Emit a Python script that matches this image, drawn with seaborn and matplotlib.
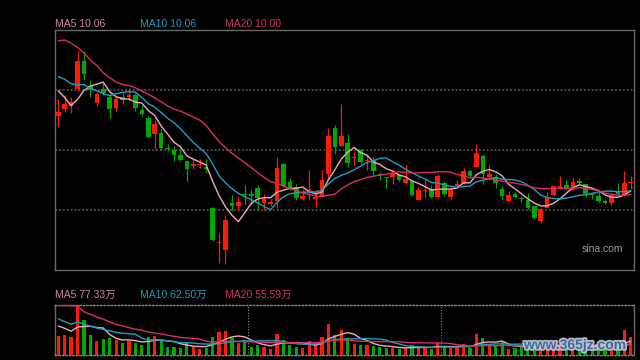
import numpy as np
import pandas as pd
import matplotlib
matplotlib.use('Agg')
import matplotlib.pyplot as plt
import matplotlib.patheffects as pe
import seaborn as sns

# daily candles (90 sessions)
opens = [11.56, 11.69, 11.76, 12.09, 12.65, 12.14, 11.82, 12.08, 11.93, 11.72,
         11.94, 11.93, 11.96, 11.67, 11.51, 11.20, 11.21, 10.92, 10.87, 10.77,
         10.65, 10.56, 10.58, 10.54, 9.72, 9.02, 8.87, 9.82, 9.76, 10.00,
         9.99, 10.12, 9.82, 9.80, 9.86, 10.59, 10.24, 10.14, 9.89, 10.04,
         9.89, 9.94, 10.39, 11.32, 10.96, 11.02, 10.72, 10.87, 10.66, 10.68,
         10.40, 10.34, 10.34, 10.38, 10.22, 10.26, 9.87, 10.06, 10.09, 9.94,
         10.22, 9.94, 10.16, 10.22, 10.45, 10.54, 10.75, 10.34, 10.32, 10.09,
         9.85, 9.99, 9.92, 9.87, 9.75, 9.46, 9.72, 9.97, 10.12, 10.17,
         10.08, 10.26, 10.19, 10.00, 9.96, 9.86, 9.82, 10.04, 9.97, 10.22]
closes = [11.64, 11.79, 11.82, 12.65, 12.40, 12.08, 11.99, 12.02, 11.69, 11.89,
          11.88, 11.96, 11.72, 11.59, 11.14, 11.40, 10.91, 10.90, 10.78, 10.68,
          10.49, 10.59, 10.60, 10.49, 9.07, 9.04, 9.47, 9.76, 9.84, 9.97,
          9.96, 9.92, 9.89, 9.84, 10.52, 10.16, 10.10, 9.91, 9.95, 10.07,
          9.94, 10.27, 11.15, 10.94, 11.15, 10.62, 10.74, 10.64, 10.68, 10.46,
          10.38, 10.32, 10.40, 10.28, 10.29, 9.97, 10.07, 10.08, 9.94, 10.36,
          9.99, 10.07, 10.20, 10.45, 10.35, 10.82, 10.40, 10.38, 10.22, 9.95,
          9.97, 9.94, 9.89, 9.72, 9.52, 9.69, 9.94, 10.16, 10.15, 10.10,
          10.24, 10.22, 9.99, 9.98, 9.85, 9.82, 9.98, 10.00, 10.22, 10.24]
highs = [11.89, 11.97, 11.94, 12.86, 12.86, 12.27, 12.04, 12.21, 11.97, 11.97,
         12.02, 12.12, 12.02, 11.77, 11.55, 11.47, 11.29, 11.00, 10.95, 10.90,
         10.65, 10.70, 10.70, 10.70, 9.74, 9.22, 9.57, 9.97, 9.95, 10.17,
         10.07, 10.17, 10.00, 9.90, 10.74, 10.61, 10.32, 10.20, 10.10, 10.47,
         10.08, 10.48, 11.32, 11.37, 11.80, 11.20, 10.84, 10.90, 10.77, 10.74,
         10.44, 10.34, 10.47, 10.40, 10.57, 10.26, 10.14, 10.27, 10.17, 10.40,
         10.26, 10.14, 10.27, 10.52, 10.48, 11.00, 10.80, 10.57, 10.40, 10.16,
         10.05, 10.04, 9.96, 10.01, 9.76, 9.72, 10.04, 10.16, 10.35, 10.28,
         10.32, 10.32, 10.20, 10.04, 10.04, 9.89, 9.98, 10.22, 10.45, 10.35]
lows = [11.34, 11.64, 11.62, 12.05, 12.27, 11.94, 11.75, 11.97, 11.52, 11.65,
        11.79, 11.85, 11.65, 11.55, 11.13, 10.90, 10.88, 10.86, 10.66, 10.66,
        10.25, 10.50, 10.52, 10.44, 9.06, 8.62, 8.60, 9.66, 9.66, 9.80,
        9.80, 9.68, 9.67, 9.75, 9.72, 10.13, 10.07, 9.87, 9.87, 9.87,
        9.74, 9.93, 10.30, 10.80, 10.95, 10.54, 10.57, 10.60, 10.48, 10.37,
        10.28, 10.12, 10.20, 10.26, 10.20, 9.95, 9.87, 9.94, 9.92, 9.92,
        9.97, 9.90, 10.12, 10.19, 10.34, 10.54, 10.19, 10.30, 10.12, 9.89,
        9.85, 9.92, 9.84, 9.70, 9.50, 9.42, 9.72, 9.95, 10.10, 10.08,
        10.08, 10.19, 9.94, 9.90, 9.84, 9.79, 9.77, 10.00, 9.97, 10.10]
# volume in 万 shares
volumes = [108.3, 112.3, 102.6, 283.3, 197.8, 112.3, 79.8, 89.5, 96.9, 86.6,
           68.4, 80.9, 68.4, 58.1, 100.9, 106.6, 80.9, 45.0, 42.8, 39.3,
           68.4, 46.7, 34.8, 41.0, 100.9, 130.5, 136.2, 98.0, 68.4, 72.4,
           45.0, 54.2, 45.6, 35.3, 118.0, 83.8, 55.3, 45.0, 39.9, 78.1,
           54.2, 102.0, 175.0, 111.2, 140.8, 98.0, 59.3, 55.3, 55.3, 51.3,
           45.6, 39.9, 36.5, 32.5, 39.9, 55.3, 39.9, 39.9, 32.5, 68.4,
           51.3, 39.9, 36.5, 59.3, 39.9, 118.0, 96.3, 51.3, 51.3, 74.1,
           32.5, 36.5, 49.6, 49.6, 66.7, 66.7, 55.3, 61.0, 43.9, 43.9,
           55.3, 43.9, 49.6, 38.2, 43.9, 38.2, 61.0, 43.9, 140.8, 100.9]

# sessions before the window, estimated from where the MA lines start
hist_close = [11.47, 13.02, 14.45, 14.60, 14.88, 14.19, 15.02, 13.49, 13.69, 12.88,
              12.30, 12.70, 12.90, 12.35, 12.85, 12.46, 12.62, 12.05, 11.50]
hist_vol = [130, 120, 300, 858, 412, 380, 343, 397, 387, 238,
            267, 258, 153, 318, 232, 180, 185, 165, 180]

ma_windows = [5, 10, 20]
price_labels = ['MA5 10.06', 'MA10 10.06', 'MA20 10.00']
vol_labels = ['MA5 77.33万', 'MA10 62.50万', 'MA20 55.59万']

RED = '#ff1a00'
GREEN = '#00a800'
MA_COLORS = ['#eeaabb', '#1e9fc2', '#dd2c68']
TEXT_COLORS = ['#d4879c', '#2399ba', '#d0336a']

sns.set_theme(style='dark', rc={'axes.facecolor': 'black', 'figure.facecolor': 'black',
                                'axes.edgecolor': '#6a6a6a'})
plt.rcParams['font.family'] = ['Liberation Sans', 'Noto Sans CJK SC']

df = pd.DataFrame({'open': opens, 'close': closes, 'high': highs, 'low': lows, 'vol': volumes})
df['x'] = np.arange(len(df))
df['color'] = np.where(df['close'] >= df['open'], RED, GREEN)

all_close = pd.Series(hist_close + closes)
all_vol = pd.Series(hist_vol + volumes)
k = len(hist_close)
for w in ma_windows:
    df[f'ma{w}'] = all_close.rolling(w).mean().iloc[k:].values
    df[f'vma{w}'] = all_vol.rolling(w).mean().iloc[k:].values

fig = plt.figure(figsize=(6.4, 3.6), dpi=100)
ax = fig.add_axes([55 / 640, 90 / 360, 579 / 640, 240 / 360])
axv = fig.add_axes([55 / 640, 5.3 / 360, 579 / 640, 50 / 360])

# candles
body_lo = df[['open', 'close']].min(axis=1)
body_h = (df['close'] - df['open']).abs().clip(lower=0.015)
ax.vlines(df['x'], df['low'], df['high'], colors=df['color'], lw=0.9, zorder=2)
ax.bar(df['x'], body_h, bottom=body_lo, width=0.72, color=df['color'], linewidth=0, zorder=3)

for w, c in zip(ma_windows, MA_COLORS):
    sns.lineplot(x=df['x'], y=df[f'ma{w}'], ax=ax, color=c, lw=1.0, zorder=4)

ylo, yhi = 8.47, 13.27
ax.set_xlim(-0.5, len(df) - 0.5)
ax.set_ylim(ylo, yhi)
ax.set_yticks(np.linspace(ylo, yhi, 5)[1:-1])
ax.grid(axis='y', color='#4a4a4a', lw=1.4, ls=(0, (1, 1)))
ax.grid(axis='x', visible=False)

# volume
axv.bar(df['x'], df['vol'], width=0.5, color=df['color'], linewidth=0, zorder=2)
for w, c in zip(ma_windows, MA_COLORS):
    sns.lineplot(x=df['x'], y=df[f'vma{w}'], ax=axv, color=c, lw=1.0, zorder=3)
axv.set_xlim(-0.5, len(df) - 0.5)
axv.set_ylim(0, 285)
axv.set_xticks([29.5, 59.5])
axv.grid(axis='x', color='#8a8a8a', lw=0.8, ls=(0, (1, 1.5)))
axv.grid(axis='y', visible=False)

for a in (ax, axv):
    a.set_xlabel('')
    a.set_ylabel('')
    a.tick_params(left=False, bottom=False, labelleft=False, labelbottom=False)
    for s in a.spines.values():
        s.set_visible(True)
        s.set_color('#6a6a6a')
        s.set_linewidth(1.0)
for s in ('top', 'bottom'):
    axv.spines[s].set_linestyle((0, (1, 1.5)))
    axv.spines[s].set_color('#8a8a8a')

# MA legends
for lbl, vl, c, xp in zip(price_labels, vol_labels, TEXT_COLORS, [55, 140, 225]):
    fig.text(xp / 640, 1 - 24 / 360, lbl, color=c, fontsize=7.5, va='center')
    fig.text(xp / 640, 1 - 295 / 360, vl, color=c, fontsize=7.5, va='center')

fig.text(582 / 640, 1 - 249 / 360, 'sina.com', color='#9a9a9a', fontsize=7.5, va='center')
fig.text(575 / 640, 1 - 345 / 360, 'www.365jz.com', color='#2f5f9f', fontsize=10,
         fontweight='bold', ha='center', va='center', alpha=0.9,
         path_effects=[pe.withStroke(linewidth=2.5, foreground='#c8d0d8')])

fig.savefig('out.png', dpi=100, facecolor='black')
